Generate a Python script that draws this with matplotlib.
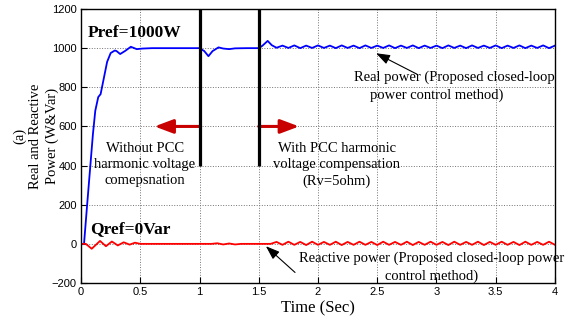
import numpy as np
import matplotlib.pyplot as plt

# real power (blue), start-up and step transients
t_p = [0, 0.025, 0.05, 0.075, 0.1, 0.12, 0.145, 0.165, 0.19, 0.22, 0.25, 0.285,
       0.3, 0.33, 0.37, 0.42, 0.47, 0.52, 0.6, 0.8, 1.0, 1.04, 1.075, 1.11,
       1.16, 1.2, 1.25, 1.3, 1.4, 1.5, 1.53, 1.575, 1.61]
p_start = [0, 0, 190, 375, 560, 680, 750, 765, 840, 930, 975, 988,
           985, 970, 985, 1007, 995, 998, 1000, 1000, 1000, 985, 959, 985,
           1004, 998, 995, 999, 1000, 1000, 1012, 1037, 1015]
# ripple after compensation is switched on (1.65 s .. 4 s, every 0.05 s)
t_p_rip = np.arange(1.65, 4.001, 0.05)
p_rip = [1002, 1013, 1001, 1014, 1000, 1013, 1001, 1014, 1001, 1013,
         1000, 1014, 1001, 1013, 1000, 1014, 1001, 1013, 1001, 1014,
         1000, 1013, 1001, 1014, 1000, 1013, 1001, 1013, 1000, 1014,
         1001, 1013, 1000, 1014, 1001, 1013, 1001, 1014, 1000, 1013,
         1001, 1014, 1000, 1013, 1001, 1014, 1000, 1013]

# reactive power (red)
t_q = [0, 0.04, 0.09, 0.16, 0.21, 0.26, 0.31, 0.36, 0.41, 0.455, 0.5, 0.6,
       1.0, 1.1, 1.15, 1.2, 1.25, 1.3, 1.35, 1.4, 1.55]
q_start = [0, 0, -25, 15, -12, 12, -8, 8, -4, 6, 0, 0,
           0, 0, 3, -3, 2, -3, 0, 0, 0]
t_q_rip = np.arange(1.6, 4.001, 0.05)
q_rip = [0, 10, -5, 11, -5, 10, -6, 11, -5, 10,
         -5, 11, -6, 10, -5, 11, -5, 10, -6, 11,
         -5, 10, -5, 11, -6, 10, -5, 11, -5, 10,
         -6, 11, -5, 10, -5, 11, -6, 10, -5, 11,
         -5, 10, -6, 11, -5, 10, -5, 11, -5]

xticks = [0, 0.5, 1, 1.5, 2, 2.5, 3, 3.5, 4]
xlabels = ['0', '0.5', '1', '1.5', '2', '2.5', '3', '3.5', '4']
yticks = [-200, 0, 200, 400, 600, 800, 1000, 1200]
switch_times = [1, 1.5]

serif = 'Liberation Serif'
plt.rcParams['font.family'] = 'Liberation Sans'

fig = plt.figure(figsize=(5.79, 3.16), dpi=100)
ax = fig.add_axes([0.14, 0.1044, 0.8185, 0.8671])

ax.plot(list(t_p) + list(t_p_rip), p_start + p_rip, color='#0000ff', lw=1.3)
ax.plot(list(t_q) + list(t_q_rip), q_start + q_rip, color='#ff0000', lw=1.3)

ax.vlines(switch_times, 400, 1200, color='k', lw=2.3, zorder=4)

ax.set_xlim(0, 4)
ax.set_ylim(-200, 1200)
ax.set_xticks(xticks)
ax.set_xticklabels(xlabels)
ax.set_yticks(yticks)
ax.tick_params(direction='in', length=4, labelsize=8, pad=3)
ax.grid(True, linestyle=':', color='0.45', lw=0.7)
for s in ax.spines.values():
    s.set_linewidth(1.0)

ax.set_xlabel('Time (Sec)', fontfamily=serif, fontsize=12, labelpad=2)
ax.text(-0.095, 0.536, '(a)\nReal and Reactive\nPower (W&Var)', transform=ax.transAxes,
        rotation=90, ha='center', va='center', multialignment='center',
        fontfamily=serif, fontsize=10.5, linespacing=1.3)

ax.text(0.06, 1077, 'Pref=1000W', fontfamily=serif, fontsize=12.5, fontweight='bold',
        ha='left', va='center')
ax.text(0.076, 77, 'Qref=0Var', fontfamily=serif, fontsize=12.5, fontweight='bold',
        ha='left', va='center')

ax.text(0.54, 408, 'Without PCC\nharmonic voltage\ncomepsnation', fontfamily=serif,
        fontsize=10.5, ha='center', va='center', linespacing=1.3)
ax.text(2.16, 403, 'With PCC harmonic\nvoltage compensation\n(Rv=5ohm)', fontfamily=serif,
        fontsize=10.5, ha='center', va='center', linespacing=1.3)

ax.text(3.148, 850, 'Real power (Proposed closed-loop', fontfamily=serif,
        fontsize=10.5, ha='center', va='center')
ax.text(3.0, 757, 'power control method)', fontfamily=serif,
        fontsize=10.5, ha='center', va='center')
ax.text(2.962, -71, 'Reactive power (Proposed closed-loop power', fontfamily=serif,
        fontsize=10.5, ha='center', va='center', clip_on=False)
ax.text(2.962, -168, 'control method)', fontfamily=serif,
        fontsize=10.5, ha='center', va='center')

# pointer arrows
ax.annotate('', xy=(2.49, 974), xytext=(2.835, 867),
            arrowprops=dict(arrowstyle='-|>,head_length=0.7,head_width=0.25',
                            color='k', lw=0.8, mutation_scale=12,
                            shrinkA=0, shrinkB=0))
ax.annotate('', xy=(1.56, -12), xytext=(1.806, -146),
            arrowprops=dict(arrowstyle='-|>,head_length=0.7,head_width=0.25',
                            color='k', lw=0.8, mutation_scale=12,
                            shrinkA=0, shrinkB=0))

# red direction arrows
red_arrow = dict(arrowstyle='-|>,head_length=0.8,head_width=0.3', color='#c80000',
                 lw=2.2, mutation_scale=14, shrinkA=0, shrinkB=0)
ax.annotate('', xy=(0.62, 600), xytext=(1.0, 600), arrowprops=red_arrow)
ax.annotate('', xy=(1.84, 600), xytext=(1.5, 600), arrowprops=red_arrow)

fig.savefig('out.png', dpi=100)
